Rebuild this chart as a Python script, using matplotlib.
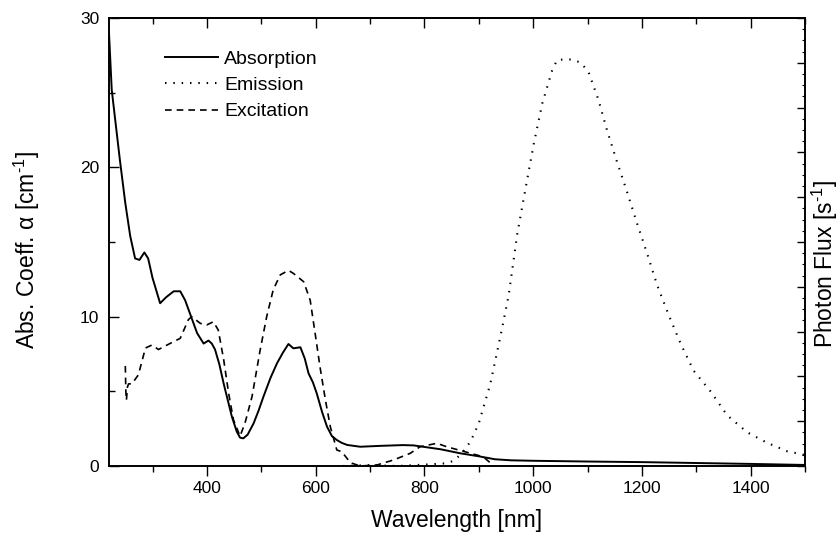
import matplotlib
matplotlib.use("Agg")
import matplotlib.pyplot as plt
from matplotlib.ticker import MultipleLocator

plt.rcParams['font.family'] = ['Liberation Sans', 'DejaVu Sans']
plt.rcParams['mathtext.fontset'] = 'custom'
plt.rcParams['mathtext.rm'] = 'Liberation Sans'
plt.rcParams['mathtext.it'] = 'Liberation Sans:italic'

# Absorption (left axis, cm^-1)
abs_nm = [220, 225, 232, 240, 250, 259, 268, 276, 285, 292, 300, 314, 325, 339, 351,
          360, 369, 382, 394, 403, 409, 415, 423, 431, 446, 455, 461, 467, 475, 486,
          495, 504, 517, 529, 540, 550, 559, 572, 580, 587, 595, 602, 612, 621, 630,
          639, 648, 658, 682, 720, 760, 780, 805, 830, 866, 900, 930, 960, 1000, 1100,
          1200, 1300, 1400, 1500]
abs_val = [29.0, 25.2, 23.0, 20.5, 17.6, 15.4, 13.9, 13.8, 14.3, 13.9, 12.6, 10.9, 11.3, 11.7, 11.7,
           11.1, 10.2, 8.9, 8.2, 8.4, 8.2, 7.8, 6.8, 5.5, 3.3, 2.3, 1.9, 1.85, 2.1, 2.86,
           3.7, 4.64, 5.9, 6.88, 7.6, 8.17, 7.88, 7.95, 7.2, 6.2, 5.6, 4.87, 3.6, 2.63, 2.0,
           1.74, 1.55, 1.41, 1.29, 1.35, 1.40, 1.38, 1.25, 1.12, 0.85, 0.65, 0.45, 0.38, 0.35, 0.30,
           0.26, 0.20, 0.14, 0.07]

# Excitation (left axis scale)
exc_nm = [250, 251, 252, 254, 256, 262, 274, 287, 299, 311, 332, 351, 366, 372, 388,
          400, 412, 421, 431, 440, 449, 461, 470, 483, 498, 510, 522, 535, 550, 559,
          578, 590, 599, 608, 618, 627, 639, 648, 664, 682, 713, 743, 774, 792, 823,
          841, 870, 900, 912, 928]
exc_val = [6.7, 5.0, 4.4, 5.3, 5.5, 5.5, 6.1, 7.9, 8.1, 7.8, 8.2, 8.55, 9.8, 10.0, 9.55,
           9.45, 9.66, 9.1, 7.1, 4.87, 3.08, 2.0, 2.86, 4.64, 7.77, 10.0, 11.8, 12.8, 13.1, 12.9,
           12.34, 11.1, 8.9, 6.65, 4.42, 2.63, 1.07, 0.96, 0.22, 0.0, 0.07, 0.4, 0.85, 1.29, 1.52,
           1.29, 1.0, 0.7, 0.5, 0.0]

# Emission (right axis, arbitrary units 0-10)
em_nm = [650, 700, 750, 800, 840, 855, 870, 885, 900, 921, 940, 955, 971, 986, 1001,
         1017, 1035, 1044, 1060, 1073, 1088, 1102, 1120, 1136, 1154, 1173, 1191, 1210, 1228, 1250,
         1271, 1295, 1326, 1357, 1394, 1430, 1467, 1498]
em_val = [0.0, 0.02, 0.0, 0.03, 0.06, 0.12, 0.3, 0.55, 0.95, 1.82, 2.90, 3.81, 5.19, 6.19, 7.18,
          8.10, 8.83, 9.06, 9.08, 9.07, 9.0, 8.79, 8.18, 7.49, 6.80, 6.11, 5.42, 4.73, 4.04, 3.35,
          2.74, 2.13, 1.67, 1.13, 0.75, 0.52, 0.33, 0.25]

fig = plt.figure(figsize=(8.4, 5.38), dpi=100)
ax = fig.add_axes([109/840, 1 - 466/538, (805 - 109)/840, (466 - 18)/538])
ax2 = ax.twinx()

l_abs, = ax.plot(abs_nm, abs_val, color='black', lw=1.4, label='Absorption')
l_em, = ax2.plot(em_nm, em_val, color='black', lw=1.5, linestyle=(0, (0.7, 3.3)),
                 label='Emission')
l_exc, = ax.plot(exc_nm, exc_val, color='black', lw=1.2, linestyle=(0, (4, 3)),
                 label='Excitation')

ax.set_xlim(220, 1500)
ax.set_ylim(0, 30)
ax2.set_ylim(0, 10)

ax.xaxis.set_major_locator(MultipleLocator(200))
ax.xaxis.set_minor_locator(MultipleLocator(100))
ax.yaxis.set_major_locator(MultipleLocator(10))
ax.yaxis.set_minor_locator(MultipleLocator(5))
ax2.yaxis.set_major_locator(MultipleLocator(1))
ax2.yaxis.set_minor_locator(MultipleLocator(0.25))

for a in (ax, ax2):
    for s in a.spines.values():
        s.set_linewidth(1.2)

ax.tick_params(axis='x', which='major', direction='out', length=7, width=1.0,
               labelsize=12.5, pad=4, top=False)
ax.tick_params(axis='x', which='minor', direction='out', length=4.5, width=1.0, top=False)
ax.tick_params(axis='y', which='major', direction='in', length=7, width=1.0,
               labelsize=12.5, pad=7, right=False)
ax.tick_params(axis='y', which='minor', direction='in', length=4.5, width=1.0, right=False)
ax2.tick_params(axis='y', which='major', direction='in', length=6, width=1.0,
                labelright=False)
ax2.tick_params(axis='y', which='minor', direction='in', length=2, width=0.8)

top = ax.secondary_xaxis('top')
top.xaxis.set_major_locator(MultipleLocator(200))
top.xaxis.set_minor_locator(MultipleLocator(100))
top.tick_params(axis='x', which='major', direction='in', length=7, width=1.0, labeltop=False)
top.tick_params(axis='x', which='minor', direction='in', length=4.5, width=1.0)
top.spines['top'].set_linewidth(1.2)

ax.set_xlabel('Wavelength [nm]', fontsize=16.5)
ax.xaxis.set_label_coords(0.5, (466 - 521) / 448)
ax.xaxis.label.set_va('center')
ax.set_ylabel(r'Abs. Coeff. α [cm$^{\mathregular{\text{-}1}}$]', fontsize=16.5)
ax.yaxis.set_label_coords((27 - 109) / 696, (466 - 250) / 448)
ax.yaxis.label.set_va('center')
ax2.set_ylabel(r'Photon Flux [s$^{\mathregular{\text{-}1}}$]', fontsize=16.5)
ax2.yaxis.set_label_coords((825 - 109) / 696, (466 - 264) / 448)
ax2.yaxis.label.set_va('center')

leg = ax.legend(handles=[l_abs, l_em, l_exc], loc='upper left',
                bbox_to_anchor=((165 - 109) / 696, (466 - 50) / 448),
                frameon=False, fontsize=14, handlelength=2.7, handletextpad=0.35,
                labelspacing=0.45, borderpad=0, borderaxespad=0)

fig.savefig('out.png', dpi=100)
